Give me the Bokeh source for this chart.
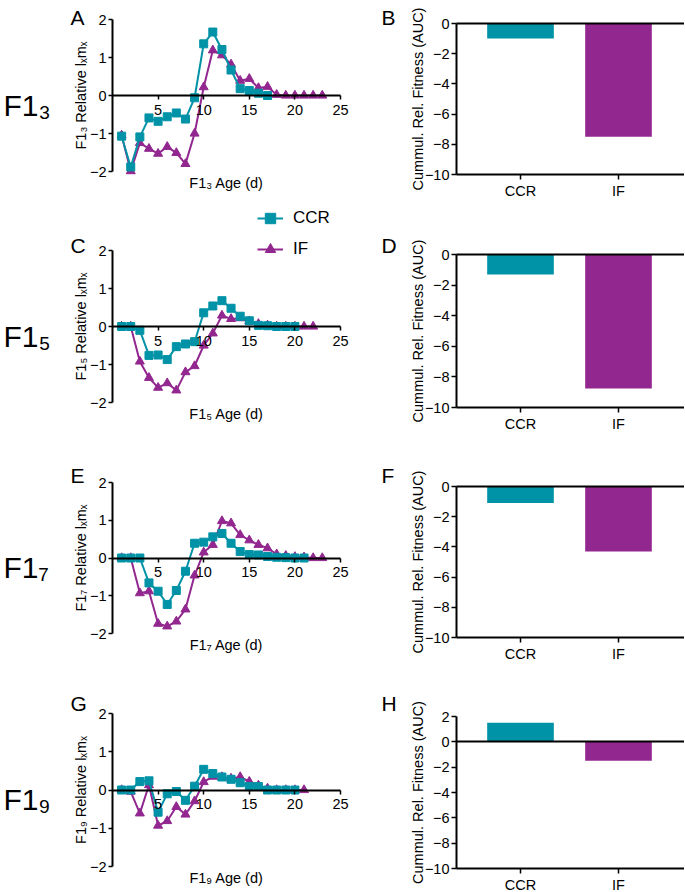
from bokeh.plotting import figure
from bokeh.layouts import row, column
from bokeh.models import Range1d, FixedTicker, LinearAxis, Label, Legend, LegendItem
from bokeh.embed import file_html
from bokeh.resources import INLINE

FONT = "Liberation Sans"
CCR_COLOR = "#0092A6"
IF_COLOR = "#92278F"

# ---------------- data ----------------
groups = ["CCR", "IF"]
generations = ["₃", "₅", "₇", "₉"]
line_letters = ["A", "C", "E", "G"]
bar_letters = ["B", "D", "F", "H"]
x_ticks = [5, 10, 15, 20, 25]
y_ticks_line = [-2, -1, 0, 1, 2]

a_ccr_x = list(range(1, 18))
a_ccr_y = [-1.07, -1.88, -1.09, -0.59, -0.68, -0.56, -0.46, -0.62, -0.06, 1.36, 1.67,
           1.21, 0.67, 0.18, 0.13, 0.06, 0.0]
a_if_x = list(range(1, 24))
a_if_y = [-1.05, -1.99, -1.25, -1.40, -1.53, -1.35, -1.51, -1.80, -1.00, 0.22, 1.19,
          1.06, 0.82, 0.39, 0.44, 0.20, 0.23, 0.02, 0.0, 0.0, 0.0, 0.0, 0.0]

c_ccr_x = list(range(1, 21))
c_ccr_y = [0.0, 0.0, -0.10, -0.76, -0.75, -0.87, -0.53, -0.46, -0.40, 0.36, 0.54,
           0.68, 0.48, 0.27, 0.15, 0.03, 0.02, 0.0, 0.0, 0.0]
c_if_x = list(range(1, 23))
c_if_y = [0.0, 0.0, -0.92, -1.35, -1.61, -1.49, -1.68, -1.20, -1.04, -0.50, -0.18,
          0.29, 0.20, 0.22, 0.14, 0.07, 0.03, 0.0, 0.0, 0.0, 0.0, 0.0]

e_ccr_x = list(range(1, 22))
e_ccr_y = [0.0, 0.0, 0.0, -0.66, -0.88, -1.23, -0.86, -0.35, 0.39, 0.42, 0.56,
           0.65, 0.39, 0.17, 0.09, 0.08, 0.04, 0.02, 0.01, 0.0, 0.0]
e_if_x = list(range(1, 24))
e_if_y = [0.0, 0.0, -0.93, -0.88, -1.74, -1.81, -1.68, -1.36, -0.46, 0.15, 0.35,
          0.98, 0.92, 0.61, 0.47, 0.35, 0.26, 0.10, 0.06, 0.03, 0.02, 0.0, 0.0]

g_ccr_x = list(range(1, 21))
g_ccr_y = [0.0, 0.0, 0.22, 0.24, -0.58, -0.10, -0.04, -0.27, 0.10, 0.54, 0.43,
           0.34, 0.28, 0.19, 0.09, 0.09, 0.0, 0.0, 0.0, 0.0]
g_if_x = list(range(1, 22))
g_if_y = [0.0, -0.04, -0.61, 0.13, -0.93, -0.81, -0.44, -0.64, -0.29, 0.21, 0.35,
          0.34, 0.30, 0.34, 0.22, 0.12, 0.04, 0.0, 0.0, 0.0, 0.0]

b_auc = [-1.0, -7.5]
d_auc = [-1.3, -8.75]
f_auc = [-1.1, -4.3]
h_auc = [1.5, -1.5]

bar_ticks_neg = [0, -2, -4, -6, -8, -10]
bar_ticks_h = [2, 0, -2, -4, -6, -8, -10]

# ---------------- layout (page pixels) ----------------
LW, RW = 380, 304
L_CANVAS, R_CANVAS = 0, LW
L_LEFT, L_RIGHT = 112, 340          # left panels: x=0 and x=25
R_LEFT, R_RIGHT = 456, LW + RW      # right panels: axis and right edge
R_C1, R_C2 = 520, 618               # bar centres
rows_spec = [
    dict(top=0, h=200, L=(19, 171), R=(23, 174), letter_base=17, row_base=105),
    dict(top=200, h=230, L=(250, 402), R=(254, 407), letter_base=245, row_base=336),
    dict(top=430, h=230, L=(482, 633), R=(486, 637), letter_base=475, row_base=567),
    dict(top=660, h=231, L=(713, 866), R=(716, 868), letter_base=703, row_base=799),
]
FS = "14.5px"


def make_map(x0, px0, x1, px1, y0, py0, y1, py1):
    sx = (px1 - px0) / (x1 - x0)
    sy = (py0 - py1) / (y1 - y0)
    return (lambda px: x0 + (px - px0) / sx), (lambda py: y0 + (py0 - py) / sy)


def style_axis(ax, tick_out=4, standoff=2):
    ax.axis_line_width = 2
    ax.axis_line_color = "black"
    ax.major_tick_line_width = 1.5
    ax.major_tick_line_color = "black"
    ax.major_tick_out = tick_out
    ax.major_tick_in = 0
    ax.minor_tick_line_color = None
    ax.major_label_standoff = standoff
    ax.major_label_text_font = FONT
    ax.major_label_text_font_size = FS
    ax.major_label_text_color = "black"
    ax.axis_label_text_font = FONT
    ax.axis_label_text_font_size = FS
    ax.axis_label_text_font_style = "normal"
    ax.axis_label_text_color = "black"


def base_fig(w, h, xr, yr):
    p = figure(width=w, height=h, x_range=Range1d(*xr), y_range=Range1d(*yr),
               output_backend="svg", toolbar_location=None, tools="",
               min_border_left=0, min_border_right=0, min_border_top=0, min_border_bottom=0)
    p.title.visible = False
    p.grid.visible = False
    p.outline_line_color = None
    return p


def add_text(p, text, x, y, size):
    p.add_layout(Label(x=x, y=y, text=text, text_font=FONT, text_font_size=size,
                       text_color="black", text_align="left", text_baseline="alphabetic"))


def line_panel(i, ccr_x, ccr_y, if_x, if_y, legend=False):
    spec = rows_spec[i]
    ftop, fbot = spec["L"]
    top, h = spec["top"], spec["h"]
    s = generations[i]
    fx, fy = make_map(0, L_LEFT, 25, L_RIGHT, -2, fbot, 2, ftop)
    p = base_fig(LW, h, (fx(L_CANVAS), fx(L_CANVAS + LW)), (fy(top + h), fy(top)))

    xa = p.xaxis[0]
    xa.fixed_location = 0
    xa.bounds = (0, 25)
    xa.ticker = FixedTicker(ticks=x_ticks)
    style_axis(xa, 4, 5)

    ya = p.yaxis[0]
    ya.fixed_location = 0
    ya.bounds = (-2, 2)
    ya.ticker = FixedTicker(ticks=y_ticks_line)
    ya.axis_label = f"F1{s} Relative lₓmₓ"
    style_axis(ya, 4, 2)
    ya.axis_label_standoff = -2

    ta = LinearAxis(ticker=FixedTicker(ticks=[]), axis_label=f"F1{s} Age (d)",
                    fixed_location=-2, bounds=(0, 25))
    style_axis(ta, 0, 0)
    ta.axis_line_color = None
    ta.major_tick_line_color = None
    ta.axis_label_standoff = 3
    p.add_layout(ta, "below")

    li = p.line(if_x, if_y, line_color=IF_COLOR, line_width=2)
    si = p.scatter(if_x, if_y, marker="triangle", size=9, fill_color=IF_COLOR, line_color=IF_COLOR)
    lc = p.line(ccr_x, ccr_y, line_color=CCR_COLOR, line_width=2)
    sc = p.scatter(ccr_x, ccr_y, marker="square", size=8, fill_color=CCR_COLOR, line_color=CCR_COLOR)

    add_text(p, line_letters[i], fx(70), fy(spec["letter_base"]), "21px")
    add_text(p, f"F1{s}", fx(3), fy(spec["row_base"]), "30px")

    if legend:
        lg = Legend(items=[LegendItem(label=groups[0], renderers=[lc, sc]),
                           LegendItem(label=groups[1], renderers=[li, si])],
                    location=(257 - L_CANVAS, top + h - 262))
        lg.border_line_color = None
        lg.background_fill_alpha = 0
        lg.glyph_width = 26
        lg.glyph_height = 26
        lg.label_height = 26
        lg.spacing = 5
        lg.padding = 0
        lg.margin = 0
        lg.label_standoff = 10
        lg.label_text_font = FONT
        lg.label_text_font_size = "17px"
        lg.label_text_color = "black"
        p.add_layout(lg)
    return p


def bar_panel(i, values, y_end, y_ticks):
    spec = rows_spec[i]
    ftop, fbot = spec["R"]
    top, h = spec["top"], spec["h"]
    pos = [k + 1 for k in range(len(groups))]
    fx, fy = make_map(1, R_C1, 2, R_C2, -10, fbot, y_end, ftop)
    x_lo, x_hi = fx(R_LEFT), fx(R_RIGHT)
    p = base_fig(RW, h, (fx(R_CANVAS), x_hi), (fy(top + h), fy(top)))

    p.vbar(x=pos, top=values, bottom=0, width=0.68,
           fill_color=[CCR_COLOR, IF_COLOR], line_color=None)

    xa = p.xaxis[0]
    xa.fixed_location = -10
    xa.bounds = (x_lo, x_hi)
    xa.ticker = FixedTicker(ticks=pos)
    xa.major_label_overrides = {k + 1: g for k, g in enumerate(groups)}
    style_axis(xa, 5, 3)

    za = LinearAxis(ticker=FixedTicker(ticks=[]), fixed_location=0, bounds=(x_lo, x_hi))
    style_axis(za, 0, 0)
    za.major_tick_line_color = None
    p.add_layout(za, "below")

    ya = p.yaxis[0]
    ya.fixed_location = x_lo
    ya.bounds = (-10, y_end)
    ya.ticker = FixedTicker(ticks=y_ticks)
    ya.axis_label = "Cummul. Rel. Fitness (AUC)"
    style_axis(ya, 5, 2)
    ya.axis_label_standoff = -4

    add_text(p, bar_letters[i], fx(R_CANVAS + 1), fy(spec["letter_base"]), "21px")
    return p


pA = line_panel(0, a_ccr_x, a_ccr_y, a_if_x, a_if_y)
pC = line_panel(1, c_ccr_x, c_ccr_y, c_if_x, c_if_y, legend=True)
pE = line_panel(2, e_ccr_x, e_ccr_y, e_if_x, e_if_y)
pG = line_panel(3, g_ccr_x, g_ccr_y, g_if_x, g_if_y)

pB = bar_panel(0, b_auc, 0, bar_ticks_neg)
pD = bar_panel(1, d_auc, 0, bar_ticks_neg)
pF = bar_panel(2, f_auc, 0, bar_ticks_neg)
pH = bar_panel(3, h_auc, 2, bar_ticks_h)

layout = column(row(pA, pB), row(pC, pD), row(pE, pF), row(pG, pH))

open("out.html", "w").write(file_html(layout, INLINE))
